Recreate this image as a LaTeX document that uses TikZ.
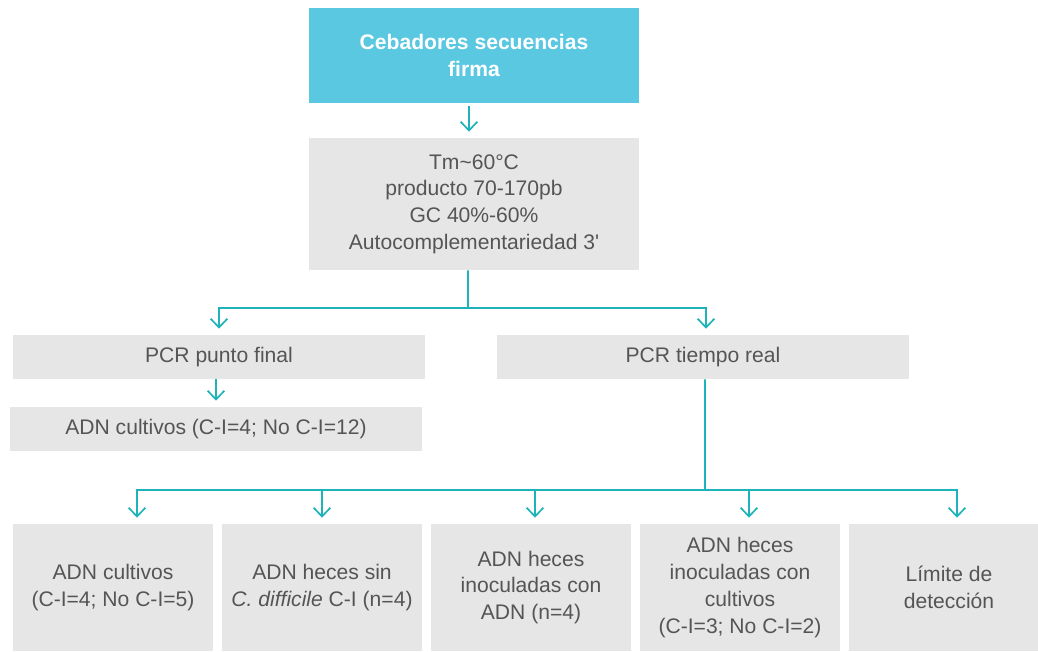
\documentclass[tikz,border=0pt]{standalone}
\usepackage{fontspec}
\setmainfont{Liberation Sans}[Ligatures=TeXOff]
\usepackage{xcolor}
\usepackage{tikz}
\usetikzlibrary{arrows.meta,positioning}

\definecolor{cyanbox}{HTML}{5BC8E2}
\definecolor{greybox}{HTML}{E6E6E6}
\definecolor{tealline}{HTML}{1DB3B8}
\definecolor{greytext}{HTML}{555555}

\begin{document}
\begin{tikzpicture}[
  x=0.025cm, y=-0.025cm,
  headbox/.style={
    rectangle, fill=cyanbox, text=white, inner sep=0pt,
    minimum width=8.25cm, minimum height=2.375cm,
    font=\fontsize{15}{19}\selectfont\bfseries, align=center
  },
  infobox/.style={
    rectangle, fill=greybox, text=greytext, inner sep=0pt,
    font=\fontsize{15}{19}\selectfont, align=center
  },
  widebox/.style={infobox, minimum width=10.3cm, minimum height=1.1cm},
  samplebox/.style={infobox, minimum width=5cm, minimum height=3.175cm},
  arr/.style={-{Straight Barb[length=2.2mm,width=4.2mm]}, draw=tealline,
    line width=1.2pt, shorten >=0.15cm},
  lnk/.style={draw=tealline, line width=1.2pt},
]
\useasboundingbox (0,0) rectangle (1038,651);

%% ── Primer design ───────────────────────────────────────────────────────────
\node[headbox] (primers) at (474, 55.5) {Cebadores secuencias\\firma};
\node[infobox, minimum width=8.25cm, minimum height=3.3cm] (crit) at (474, 204)
  {Tm\textasciitilde60°C\\producto 70-170pb\\GC 40\%-60\%\\Autocomplementariedad 3'};

%% ── PCR types ───────────────────────────────────────────────────────────────
\node[widebox] (endpoint) at (219, 357) {PCR punto final};
\node[widebox] (realtime) at (703, 357) {PCR tiempo real};
\node[widebox] (endcult)  at (216, 429) {ADN cultivos (C-I=4; No C-I=12)};

%% ── Real-time samples ───────────────────────────────────────────────────────
\node[samplebox] (cult)   at (113, 587.5) {ADN cultivos\\(C-I=4; No C-I=5)};
\node[samplebox] (stool)  at (322, 587.5) {ADN heces sin\\\textit{C. difficile} C-I (n=4)};
\node[samplebox] (inocdna) at (531, 587.5) {ADN heces\\inoculadas con\\ADN (n=4)};
\node[samplebox] (inoccult) at (740, 587.5) {ADN heces\\inoculadas con\\cultivos\\(C-I=3; No C-I=2)};
\node[samplebox] (limit)  at (949, 587.5) {Límite de\\detección};

%% ── Edges ───────────────────────────────────────────────────────────────────
\coordinate (split) at (468, 308);
\coordinate (bus)   at (705, 490);

\draw[arr, shorten <=2pt] ([xshift=-0.125cm]primers.south) -- ([xshift=-0.125cm]crit.north);
\draw[lnk] ([xshift=-0.15cm]crit.south) -- (split);
\draw[arr] (split) -| (endpoint.north);
\draw[arr] (split) -| ([xshift=0.075cm]realtime.north);
\draw[arr] (endcult.north |- endpoint.south) -- (endcult.north);
\draw[lnk] ([xshift=0.05cm]realtime.south) -- (bus);
\draw[arr] (bus) -| ([xshift=0.6cm]cult.north);
\draw[arr] (bus) -| (stool.north);
\draw[arr] (bus) -| ([xshift=0.1cm]inocdna.north);
\draw[arr] (bus) -| ([xshift=0.225cm]inoccult.north);
\draw[arr] (bus) -| ([xshift=0.2cm]limit.north);

\end{tikzpicture}
\end{document}
